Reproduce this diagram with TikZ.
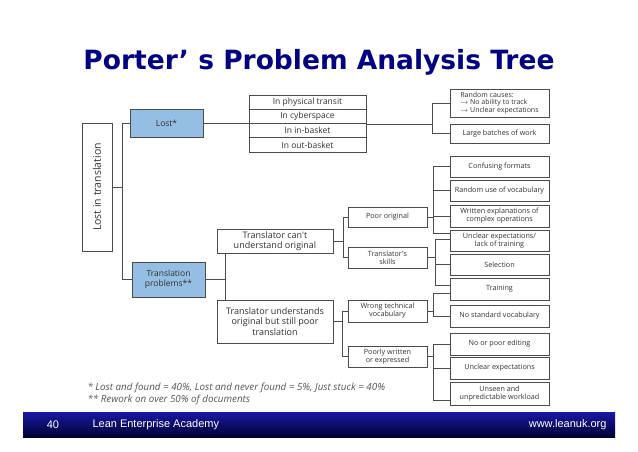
\documentclass[tikz,border=0pt]{standalone}
\usepackage{fontspec}
\usepackage{graphicx}
\usepackage{tikz}
\usetikzlibrary{calc}
\newfontfamily\titlefont{DejaVu Sans}
\newfontfamily\boxfont{Open Sans}
\newfontfamily\barfont{Liberation Sans}
\definecolor{titlenavy}{RGB}{0,0,128}
\definecolor{lostblue}{RGB}{148,190,228}
\definecolor{boxgray}{RGB}{75,75,75}
\definecolor{inkgray}{RGB}{50,50,50}
\definecolor{notegray}{RGB}{85,85,85}
\definecolor{bartop}{RGB}{25,25,165}
\definecolor{barbottom}{RGB}{0,0,50}

\begin{document}
\begin{tikzpicture}[
    x=1pt, y=-1pt,
    box/.style={draw=boxgray, line width=0.7pt, fill=white, align=center, text=inkgray, inner sep=1pt,
      font=\boxfont\fontsize{7.2}{8}\selectfont},
    bluebox/.style={box, fill=lostblue, font=\boxfont\fontsize{8.5}{9.5}\selectfont},
    midbox/.style={box, minimum width=116pt, font=\boxfont\fontsize{9}{10.5}\selectfont},
    causebox/.style={box, minimum width=79pt},
    leaf/.style={box, minimum width=99pt, minimum height=21pt},
    listrow/.style={box, minimum width=117pt, minimum height=14.25pt, font=\boxfont\fontsize{8.5}{9}\selectfont},
    link/.style={draw=boxgray, line width=0.7pt},
    barlabel/.style={text=white, font=\barfont\fontsize{11}{13}\selectfont}
  ]
    \useasboundingbox (0,0) rectangle (638,452);

    % title
    \node[text=titlenavy, font=\titlefont\bfseries\fontsize{26.5}{30}\selectfont] (title) at (319,62) {Porter’ s Problem Analysis Tree};

    % root and first level
    \node[box, minimum width=30pt, minimum height=128pt, font=\boxfont\fontsize{10.5}{12}\selectfont] (root) at (97,187)
      {\rotatebox{90}{Lost in translation}};
    \node[bluebox, minimum width=73pt, minimum height=28pt] (lost) at (166.5,123.5) {Lost*};
    \node[bluebox, minimum width=73pt, minimum height=35pt] (tp) at (168.5,279.5) {Translation\\problems**};

    % where things get lost
    \node[listrow] (phys) at (307.5,102.1) {In physical transit};
    \node[listrow] (cyber) at (307.5,116.4) {In cyberspace};
    \node[listrow] (inbask) at (307.5,130.6) {In in-basket};
    \node[listrow] (outbask) at (307.5,144.9) {In out-basket};

    % second and third level
    \node[midbox, minimum height=24pt] (cant) at (275,241) {Translator can't\\understand original};
    \node[midbox, minimum height=43pt] (und) at (275,321.5) {Translator understands\\original but still poor\\translation};
    \node[causebox, minimum height=20pt] (poor) at (387.5,217) {Poor original};
    \node[causebox, minimum height=21pt] (skill) at (387.5,257.5) {Translator's\\skills};
    \node[causebox, minimum height=22pt] (wrong) at (387.5,311) {Wrong technical\\vocabulary};
    \node[causebox, minimum height=21pt] (poorly) at (387.5,356.5) {Poorly written\\or expressed};

    % leaves
    \node[leaf, minimum height=28pt, align=left, font=\boxfont\fontsize{7}{7.8}\selectfont] (rc) at (499.5,103)
      {Random causes:\\\(\rightarrow\) No ability to track\\\(\rightarrow\) Unclear expectations};
    \node[leaf, minimum height=19pt] (large) at (499.5,133.5) {Large batches of work};
    \node[leaf] (conf) at (499.5,166.5) {Confusing formats};
    \node[leaf] (randv) at (499.5,190.5) {Random use of vocabulary};
    \node[leaf, minimum height=22pt] (writ) at (499.5,216) {Written explanations of\\complex operations};
    \node[leaf] (unc1) at (499.5,240.5) {Unclear expectations/\\lack of training};
    \node[leaf] (sel) at (499.5,264.5) {Selection};
    \node[leaf, minimum height=22pt] (train) at (499.5,289) {Training};
    \node[leaf, minimum height=22pt] (nostd) at (499.5,316) {No standard vocabulary};
    \node[leaf, minimum height=22pt] (edit) at (499.5,344) {No or poor editing};
    \node[leaf, minimum height=22pt] (unclear) at (499.5,368) {Unclear expectations};
    \node[leaf, minimum height=23pt] (unseen) at (499.5,393.5) {Unseen and\\unpredictable workload};

    % connectors
    \draw[link] (root.east) -- ++(10,0) coordinate (rj);
    \draw[link] (lost.west) -| (rj) |- (tp.west);
    \draw[link] (lost.east) -- (lost.east -| cyber.west);
    \draw[link] (cyber.south east) -- ++(66,0) coordinate (lj);
    \draw[link] (rc.west) -| (lj) |- (large.west);
    \draw[link] (tp.east) -- ++(20,0) coordinate (tj);
    \draw[link] (tj |- cant.south) -- (tj |- und.north);
    \draw[link] (cant.east) -- ++(10,0) coordinate (cj);
    \draw[link] (poor.west) -| (cj) |- (skill.west);
    \draw[link] (und.east) -- ++(9,0) coordinate (uj);
    \draw[link] (wrong.west) -| (uj) |- (poorly.west);
    \draw[link] (poor.east) -- ++(6,0) coordinate (pj);
    \foreach \leafname in {conf,randv,writ}
      \draw[link] (pj) |- (\leafname.west);
    \draw[link] (pj) |- ([yshift=7pt]unc1.west);
    \draw[link] (skill.east) -- ++(8,0) coordinate (sj);
    \draw[link] (sj) |- ([yshift=1.5pt]unc1.west);
    \draw[link] (sj) |- (sel.west);
    \draw[link] (sj) |- ([yshift=4pt]train.west);
    \draw[link] (wrong.east) -- ++(6,0) coordinate (wj);
    \draw[link] (wj) |- ([yshift=-4pt]train.west);
    \draw[link] (wj) |- (nostd.west);
    \draw[link] (poorly.east) -- ++(6,0) coordinate (yj);
    \draw[link] (yj) |- (edit.west);
    \draw[link] (yj) |- (unclear.west);
    \draw[link] (yj) |- ([yshift=-7pt]unseen.west);

    % notes
    \node[anchor=west, text=notegray, font=\boxfont\itshape\fontsize{9.8}{11}\selectfont] (note1) at (84,388)
      {* Lost and found = 40\%, Lost and never found = 5\%, Just stuck = 40\%};
    \node[anchor=west, text=notegray, font=\boxfont\itshape\fontsize{9.8}{11}\selectfont] (note2) at (84,400)
      {** Rework on over 50\% of documents};

    % footer bar
    \shade[top color=bartop, bottom color=barbottom] (23,412) rectangle (615,437);
    \node[barlabel] (pagenum) at (53,425) {40};
    \node[barlabel, anchor=west] (academy) at (89,425) {Lean Enterprise Academy};
    \node[barlabel, anchor=east] (web) at (610,425) {www.leanuk.org};
  \end{tikzpicture}
\end{document}
